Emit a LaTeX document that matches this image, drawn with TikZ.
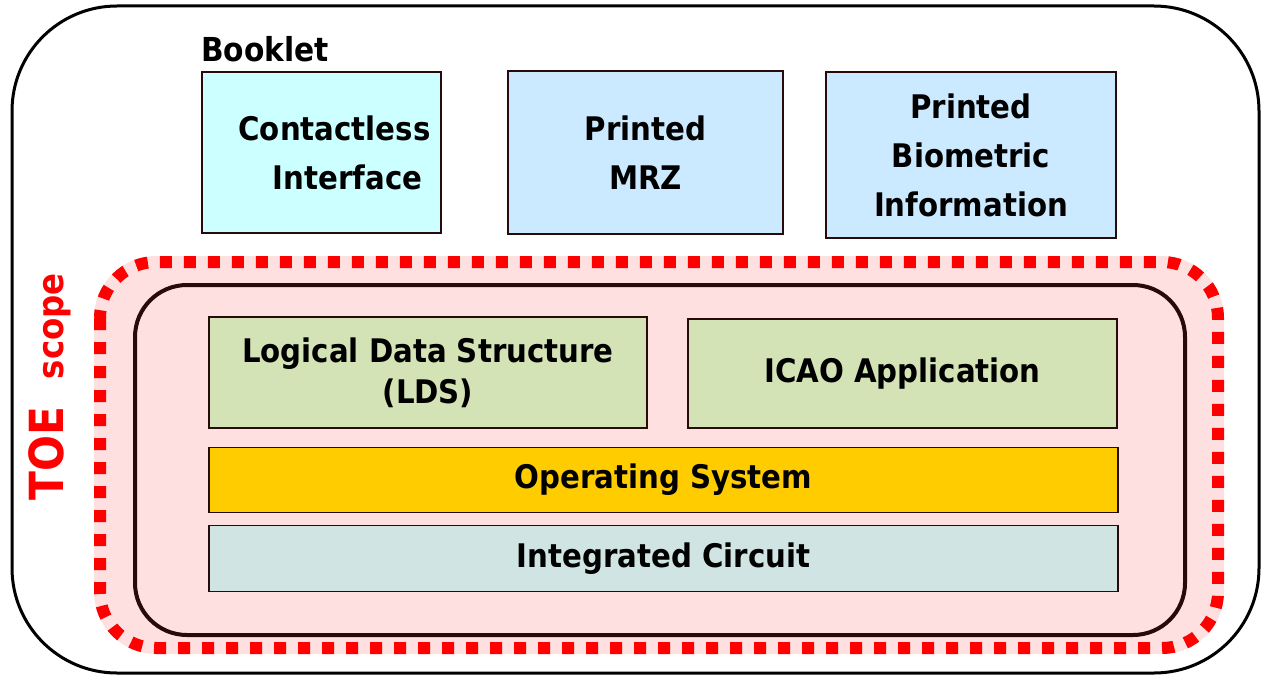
\documentclass[tikz,border=0pt]{standalone}
\usepackage{fontspec}
\setmainfont{DejaVu Sans Condensed}
\usetikzlibrary{positioning}
\definecolor{cifcyan}{RGB}{204,255,255}
\definecolor{prtblue}{RGB}{204,234,255}
\definecolor{ldsgreen}{RGB}{211,227,181}
\definecolor{osgold}{RGB}{255,204,0}
\definecolor{icgrey}{RGB}{208,228,228}
\definecolor{toepink}{RGB}{255,224,224}
\definecolor{edge}{RGB}{40,10,10}
\tikzset{
  layer/.style={draw=edge, line width=1.5pt, inner sep=0pt, align=center,
                font=\bfseries\fontsize{32.5}{49}\selectfont},
  toeband/.style={rounded corners=56pt},
}
\begin{document}
\begin{tikzpicture}[x=1pt,y=-1pt]
      \useasboundingbox (0,0) rectangle (1269,677);
      % booklet
      \draw[line width=3pt, rounded corners=105pt] (12,6) rectangle (1259,673);
      \node[anchor=base west, inner sep=0pt, font=\bfseries\fontsize{33}{40}\selectfont] (booklet) at (201,62) {Booklet};
      \node[layer, fill=cifcyan, minimum width=239pt, minimum height=161pt] (cif) at (321.5,152.5)
            {\hspace*{26pt}Contactless\\ \hspace*{52pt}Interface};
      \node[layer, fill=prtblue, minimum width=275pt, minimum height=163pt] (mrz) at (645.5,152.5) {Printed\\ MRZ};
      \node[layer, fill=prtblue, minimum width=290pt, minimum height=166pt] (bio) at (971,155) {Printed\\ Biometric\\ Information};
      % TOE scope
      \draw[toeband, fill=toepink, draw=toepink, line width=12pt] (100,262) rectangle (1218,648);
      \draw[toeband, draw=red, line width=12pt, dash pattern=on 12pt off 12pt] (100,262) rectangle (1218,648);
      \node[rotate=90, anchor=base west, inner sep=0pt, text=red] (toe) at (63,501)
            {\bfseries\fontsize{47}{60}\selectfont TOE\hspace{28pt}{\fontsize{36}{40}\selectfont scope}};
      \draw[line width=4pt, draw=edge, rounded corners=52pt] (135,285) rectangle (1185,635);
      \node[layer, fill=ldsgreen, minimum width=438pt, minimum height=111pt, font=\bfseries\fontsize{32.5}{41}\selectfont] (lds) at (428,372.5) {Logical Data Structure\\ (LDS)};
      \node[layer, fill=ldsgreen, minimum width=429pt, minimum height=109pt] (icao) at (902.5,373.5) {ICAO Application};
      \node[layer, fill=osgold, minimum width=909pt, minimum height=65pt] (os) at (663.5,480) {Operating System};
      \node[layer, fill=icgrey, minimum width=909pt, minimum height=66pt] (ic) at (663.5,558.5) {Integrated Circuit};
\end{tikzpicture}
\end{document}
